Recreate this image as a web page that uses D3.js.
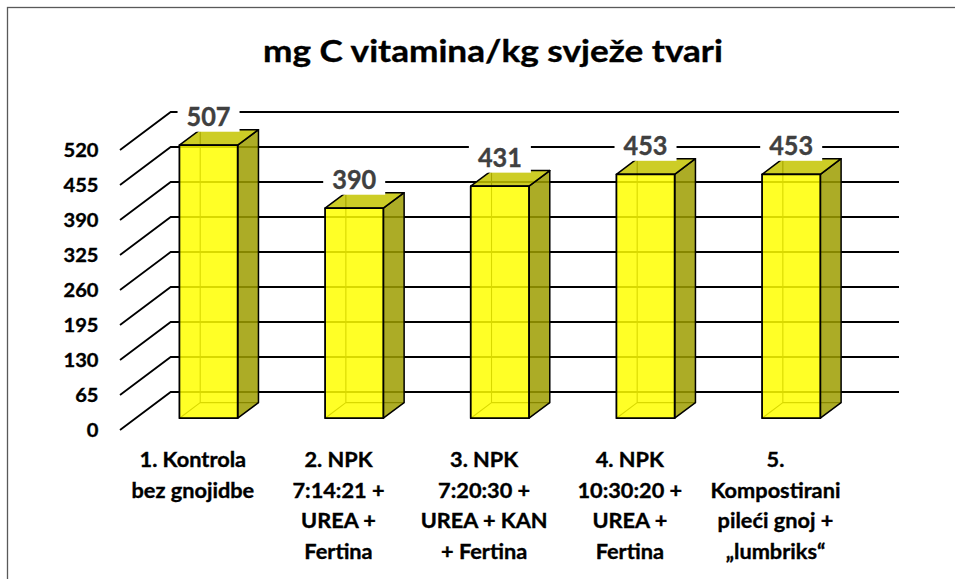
<!DOCTYPE html>
<html><head><meta charset="utf-8">
<script src="https://cdn.jsdelivr.net/npm/d3@7"></script>
<style>
body{margin:0;background:#fff}
svg{display:block}
text{font-family:Lato,'Open Sans',sans-serif;font-weight:700}
</style></head>
<body><svg id="c" width="955" height="579"></svg>
<script>
// ---- data ----
const title = "mg C vitamina/kg svježe tvari";
const categories = [
  "1. Kontrola\nbez gnojidbe",
  "2. NPK\n7:14:21 +\nUREA +\nFertina",
  "3. NPK\n7:20:30 +\nUREA + KAN\n+ Fertina",
  "4. NPK\n10:30:20 +\nUREA +\nFertina",
  "5.\nKompostirani\npileći gnoj +\n„lumbriks“"
];
const values = [507, 390, 431, 453, 453];
const yTicks = [0, 65, 130, 195, 260, 325, 390, 455, 520];

// ---- layout ----
const svg = d3.select("#c");
const X0 = 120, FLOOR = 430, DX = 50.7, DY = 38, W = 728.3, H = 280;
const Z0 = 0.31, Z1 = 0.72;

const x = d3.scaleBand().domain(d3.range(categories.length)).range([0, W])
  .paddingInner(0.6).paddingOuter(0.3);
const y = d3.scaleLinear().domain([0, d3.max(yTicks)]).range([0, H]);
const proj = (xp, v, z) => [X0 + xp + z * DX, FLOOR - y(v) - z * DY];
const P = pts => "M" + pts.map(p => p.join(",")).join("L") + "Z";
const L = pts => "M" + pts.map(p => p.join(",")).join("L");

function measure(str, size) {
  const t = svg.append("text").attr("font-size", size).text(str);
  const w = t.node().getComputedTextLength(); t.remove(); return w;
}
function label(parent, str, px, py, size, sx, anchor, color) {
  parent.append("g").attr("transform", `translate(${px},${py}) scale(${sx},1)`)
    .append("text").attr("font-size", size).attr("text-anchor", anchor)
    .attr("fill", color).attr("stroke", color).attr("stroke-width", 0.35)
    .text(str);
}

// border
svg.append("rect").attr("x", 7.5).attr("y", 7.5).attr("width", 1000).attr("height", 700)
  .attr("fill", "none").attr("stroke", "#595959").attr("stroke-width", 1.3);

// title
const tSize = 30, tScale = 460 / measure(title, tSize);
label(svg, title, 493, 62, tSize, tScale, "middle", "#000");

// gridlines (side wall diagonals + back wall)
const grid = svg.append("g").attr("fill", "none").attr("stroke", "#000");
yTicks.forEach(t => {
  grid.append("path").attr("d", L([proj(0, t, 0), proj(0, t, 1), proj(W, t, 1)]))
    .attr("stroke-width", 1.8);
});

// y tick labels
const ySize = 18.5, yScale = 35 / measure("520", ySize);
yTicks.forEach(t => {
  const p = proj(0, t, 0);
  label(svg, t, 98.5, p[1] + ySize * 0.358, ySize, yScale, "end", "#000");
});

// bars
const bw = x.bandwidth();
const bars = svg.append("g").attr("stroke", "#000").attr("stroke-linejoin", "round");
values.forEach((v, i) => {
  const xl = x(i), xr = x(i) + bw;
  // hidden edges (seen through translucent faces)
  bars.append("path").attr("fill", "none").attr("stroke-width", 1.1)
    .attr("d", L([proj(xl, v, Z1), proj(xl, 0, Z1), proj(xr, 0, Z1)]) + L([proj(xl, 0, Z0), proj(xl, 0, Z1)]));
  // right side
  bars.append("path").attr("fill", "#9e9e00").attr("fill-opacity", 0.85).attr("stroke-width", 1.5)
    .attr("d", P([proj(xr, 0, Z0), proj(xr, 0, Z1), proj(xr, v, Z1), proj(xr, v, Z0)]));
  // top
  bars.append("path").attr("fill", "#c4c400").attr("fill-opacity", 0.85).attr("stroke-width", 1.5)
    .attr("d", P([proj(xl, v, Z0), proj(xr, v, Z0), proj(xr, v, Z1), proj(xl, v, Z1)]));
  // front
  bars.append("path").attr("fill", "#ffff00").attr("fill-opacity", 0.85).attr("stroke-width", 1.8)
    .attr("d", P([proj(xl, 0, Z0), proj(xr, 0, Z0), proj(xr, v, Z0), proj(xl, v, Z0)]));
});

// data labels
const dSize = 26, dScale = 44 / measure("507", dSize);
values.forEach((v, i) => {
  const p = proj(x(i) + bw / 2, v, Z0);
  const cy = p[1] - 28.5;
  svg.append("rect").attr("x", p[0] - 31).attr("y", cy - 15).attr("width", 62).attr("height", 30)
    .attr("fill", "#fff");
  label(svg, v, p[0], cy + dSize * 0.358, dSize, dScale, "middle", "#404040");
});

// category labels
const cSize = 20, cScale = 106.6 / measure("1. Kontrola", cSize);
categories.forEach((c, i) => {
  const p = proj(x(i) + bw / 2, 0, 0);
  c.split("\n").forEach((line, j) => {
    label(svg, line, p[0], 467.3 + j * 30.5, cSize, cScale, "middle", "#000");
  });
});
</script>
</body></html>
